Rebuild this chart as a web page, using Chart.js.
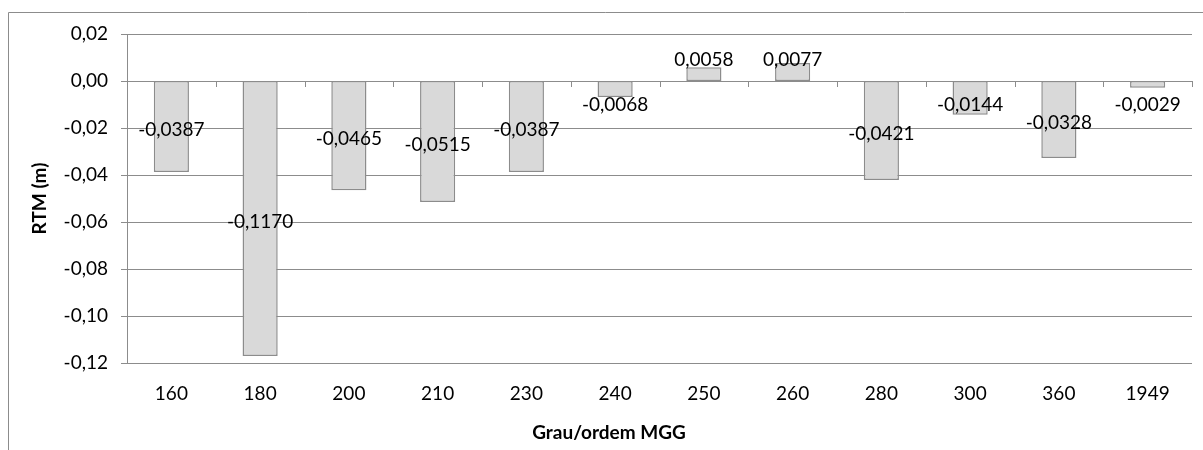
<!DOCTYPE html>
<html>
<head>
<meta charset="utf-8">
<script src="https://cdn.jsdelivr.net/npm/chart.js@4"></script>
<style>
  body { margin: 0; background: #fff; }
  #box { width: 1203px; height: 450px; }
</style>
</head>
<body>
<div id="box"><canvas id="rtmChart" width="1203" height="450"></canvas></div>
<script>
// valores
const graus = ['160', '180', '200', '210', '230', '240', '250', '260', '280', '300', '360', '1949'];
const rtm = [-0.0387, -0.1170, -0.0465, -0.0515, -0.0387, -0.0068, 0.0058, 0.0077, -0.0421, -0.0144, -0.0328, -0.0029];
const yMin = -0.12;
const yMax = 0.02;
const yStep = 0.02;
const tituloX = 'Grau/ordem MGG';
const tituloY = 'RTM (m)';

const fonte = 'Lato, "Open Sans", sans-serif';
const tam = 19;
const cinza = '#8c8c8c';

const virgula = (v, casas) => {
  if (Math.abs(v) < 1e-9) v = 0;
  return v.toFixed(casas).replace('.', ',');
};

// moldura, titulos e rotulos desenhados a mao (estilo excel)
const extras = {
  id: 'extras',
  beforeDraw(chart) {
    const ctx = chart.ctx;
    ctx.save();
    ctx.strokeStyle = cinza;
    ctx.lineWidth = 1;
    ctx.beginPath();
    ctx.moveTo(8.5, 450);
    ctx.lineTo(8.5, 12.5);
    ctx.lineTo(1203, 12.5);
    ctx.stroke();
    ctx.restore();
  },
  afterDatasetsDraw(chart) {
    const ctx = chart.ctx;
    const area = chart.chartArea;
    const y0 = chart.scales.y.getPixelForValue(0);
    const n = graus.length;
    const larg = (area.right - area.left) / n;

    ctx.save();
    // marcas no eixo do zero
    ctx.strokeStyle = cinza;
    ctx.lineWidth = 1;
    ctx.beginPath();
    for (let k = 0; k <= n; k++) {
      const x = Math.round(area.left + larg * k) + 0.5;
      ctx.moveTo(x, y0);
      ctx.lineTo(x, y0 + 6);
    }
    ctx.stroke();

    // rotulos dos dados
    ctx.fillStyle = '#000';
    ctx.font = tam + 'px ' + fonte;
    ctx.textAlign = 'center';
    ctx.textBaseline = 'middle';
    const meta = chart.getDatasetMeta(0);
    meta.data.forEach((bar, i) => {
      const v = rtm[i];
      const meio = (bar.y + bar.base) / 2;
      let y;
      if (v < 0) {
        y = Math.max(meio + 3, bar.base + 23.5);
      } else {
        y = Math.min(meio - 3, bar.base - 21.5);
      }
      ctx.fillText(virgula(v, 4), bar.x, y);
    });

    // titulos dos eixos
    ctx.font = 'bold ' + tam + 'px ' + fonte;
    ctx.fillText(tituloX, 609, 433);
    ctx.translate(40, (area.top + area.bottom) / 2);
    ctx.rotate(-Math.PI / 2);
    ctx.fillText(tituloY, 0, 0);
    ctx.restore();
  }
};

new Chart(document.getElementById('rtmChart'), {
  type: 'bar',
  data: {
    labels: graus,
    datasets: [{
      data: rtm,
      backgroundColor: '#d9d9d9',
      borderColor: cinza,
      borderWidth: 1.5,
      borderSkipped: false,
      categoryPercentage: 0.4,
      barPercentage: 0.99
    }]
  },
  options: {
    responsive: false,
    animation: false,
    layout: { padding: { top: 34, right: 11, bottom: 0, left: 0 } },
    plugins: {
      legend: { display: false },
      tooltip: { enabled: false }
    },
    scales: {
      x: {
        grid: { display: false, drawTicks: false },
        border: { display: false },
        ticks: { color: '#000', font: { family: fonte, size: tam }, padding: 19 },
        afterFit: s => { s.height = 87; }
      },
      y: {
        min: yMin,
        max: yMax,
        grid: { color: cinza, tickLength: 6 },
        border: { display: true, color: cinza },
        ticks: {
          stepSize: yStep,
          color: '#000',
          padding: 13,
          font: { family: fonte, size: tam },
          callback: v => virgula(v, 2)
        },
        afterFit: s => { s.width = 127; }
      }
    }
  },
  plugins: [extras]
});
</script>
</body>
</html>
